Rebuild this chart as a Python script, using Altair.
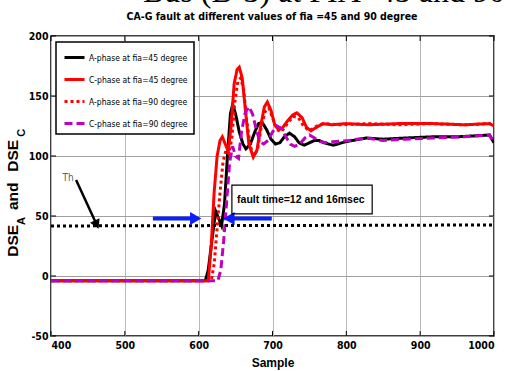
import altair as alt
import pandas as pd

# ---------------- data ----------------
SERIES = ["A-phase at  fia=45 degree", "C-phase at fia=45 degree",
          "A-phase at fia=90 degree", "C-phase at fia=90 degree"]
COLORS = ["#000000", "#ff0000", "#ff0000", "#c000c0"]
DASHES = [[1, 0], [1, 0], [3, 3], [8, 4]]

a45_x = [400, 609, 613, 618, 623, 627, 631, 635, 639, 643, 646, 650, 655, 660, 664, 670, 676,
         681, 686, 692, 698, 704, 710, 716, 723, 730, 736, 743, 750, 757, 763, 770, 782, 800,
         827, 850, 880, 917, 950, 980, 994, 1000]
a45_y = [-4, -4, 5, 30, 54, 48, 42, 60, 100, 135, 143, 135, 120, 110, 106, 110, 120,
         127, 128, 122, 114, 110, 111, 116, 119, 116, 111, 109, 111, 113, 113, 111, 109, 112,
         115, 114, 115, 116, 116, 117, 117.5, 111]

c45_x = [400, 613, 617, 621, 625, 629, 632, 636, 640, 644, 648, 652, 655, 659, 663, 668, 674,
         679, 684, 689, 693, 698, 703, 708, 713, 720, 727, 733, 740, 746, 752, 760, 768, 780,
         800, 830, 870, 917, 960, 994, 1000]
c45_y = [-4, -4, 25, 70, 100, 113, 116, 110, 104, 125, 160, 172, 174, 165, 140, 110, 99,
         105, 125, 141, 145, 138, 126, 122, 123, 129, 134, 136, 132, 124, 121, 124, 127, 126,
         127, 126, 127, 127, 126, 127, 125]

a90_x = [400, 617, 621, 625, 629, 633, 637, 641, 645, 649, 653, 657, 661, 665, 670, 675, 680,
         685, 690, 695, 700, 706, 712, 720, 728, 735, 742, 750, 760, 770, 790, 830, 870, 917,
         960, 994, 1000]
a90_y = [-4, -4, 10, 40, 70, 95, 105, 102, 115, 145, 162, 165, 155, 130, 108, 100, 106,
         125, 137, 140, 132, 122, 120, 127, 133, 132, 125, 121, 125, 127, 126, 127, 126, 127,
         126, 127, 125]

c90_x = [400, 626, 630, 634, 638, 642, 646, 650, 654, 658, 663, 668, 673, 678, 683, 688, 694,
         700, 706, 712, 718, 724, 730, 737, 744, 750, 757, 764, 772, 785, 804, 827, 849, 880,
         917, 960, 994, 1000]
c90_y = [-4, -4, 5, 30, 63, 95, 108, 100, 98, 120, 136, 141, 135, 122, 112, 110, 113,
         120, 125, 123, 116, 110, 108, 110, 115, 117.5, 115, 112, 111, 112, 113, 115, 113, 114,
         115, 116, 117.5, 111]

th_x = [400, 1000]
th_y = [41.7, 42.5]

X_TICKS = [400, 500, 600, 700, 800, 900, 1000]
Y_TICKS = [-50, 0, 50, 100, 150, 200]

TITLE = "CA-G fault at different values of fia =45 and 90 degree"
TOP_TEXT = "Bus (B-3) at FIA=45 and 90"
FAULT_TEXT = "fault time=12 and 16msec"

# annotation anchor points (data units)
th_label = {"x": 423, "y": 82, "t": "Th"}
th_arrow_x = [434, 461]
th_arrow_y = [80, 44]
blue_right_x = [538, 596]
blue_left_x = [699, 641]
blue_y = 48
box = {"x": 645, "x2": 835, "y": 75.8, "y2": 51.7}

NARROW = "Liberation Sans Narrow, DejaVu Sans Condensed, Liberation Sans, sans-serif"
SANS = "Liberation Sans, Arial, sans-serif"

# ---------------- build tables ----------------
rows = []
for name, xs_, ys_ in zip(SERIES, [a45_x, c45_x, a90_x, c90_x], [a45_y, c45_y, a90_y, c90_y]):
    for i, (xv, yv) in enumerate(zip(xs_, ys_)):
        rows.append({"series": name, "x": xv, "y": yv, "i": i})
df = pd.DataFrame(rows)

xs = alt.Scale(domain=[400, 1000], nice=False)
ys = alt.Scale(domain=[-50, 200], nice=False)

X = alt.X("x:Q", scale=xs, axis=alt.Axis(values=X_TICKS, title="Sample", grid=True,
                                           ticks=False, domain=False, labelPadding=4,
                                           titlePadding=7, gridColor="#b8b8b8",
                                           labelExpr="'' + datum.value"))
Y = alt.Y("y:Q", scale=ys, axis=alt.Axis(values=Y_TICKS, title=None, grid=True,
                                           ticks=False, domain=False, labelPadding=3,
                                           gridColor="#a0a0a0",
                                           labelExpr="'' + datum.value"))

leg = alt.Legend(title=None, orient="none", legendX=5, legendY=6, symbolType="stroke",
                 symbolSize=400, symbolStrokeWidth=3, strokeColor="black", fillColor="white",
                 padding=4, rowPadding=4, labelFont=NARROW, labelFontSize=8.5,
                 labelOffset=3, symbolOffset=3, cornerRadius=0, labelColor="black")

base = alt.Chart(df).mark_line(strokeWidth=3, clip=True).encode(
    x=X, y=Y,
    color=alt.Color("series:N", scale=alt.Scale(domain=SERIES, range=COLORS), legend=leg),
    strokeDash=alt.StrokeDash("series:N", scale=alt.Scale(domain=SERIES, range=DASHES), legend=leg),
    order="i:Q",
)
line_layers = [base.transform_filter(alt.datum.series == s) for s in SERIES]

th_df = pd.DataFrame({"x": th_x, "y": th_y})
thresh = alt.Chart(th_df).mark_line(color="black", strokeWidth=3, strokeDash=[3, 3]).encode(
    x=alt.X("x:Q", scale=xs), y=alt.Y("y:Q", scale=ys))

# black arrow for Th
arr_df = pd.DataFrame({"x": th_arrow_x, "y": th_arrow_y})
th_arrow = alt.Chart(arr_df).mark_line(color="black", strokeWidth=2.5).encode(
    x=alt.X("x:Q", scale=xs), y=alt.Y("y:Q", scale=ys))
th_head = alt.Chart(pd.DataFrame({"x": [th_arrow_x[1]], "y": [th_arrow_y[1]]})).mark_point(
    shape="triangle", filled=True, color="black", size=110, angle=155, opacity=1).encode(
    x=alt.X("x:Q", scale=xs), y=alt.Y("y:Q", scale=ys))
th_text = alt.Chart(pd.DataFrame({"x": [th_label["x"]], "y": [th_label["y"]], "t": [th_label["t"]]})).mark_text(
    font=NARROW, fontSize=10, color="#606060", align="center", baseline="middle").encode(
    x=alt.X("x:Q", scale=xs), y=alt.Y("y:Q", scale=ys), text="t:N")

# blue arrows
br = alt.Chart(pd.DataFrame({"x": blue_right_x, "y": [blue_y] * 2})).mark_line(
    color="#0a1eff", strokeWidth=4).encode(x=alt.X("x:Q", scale=xs), y=alt.Y("y:Q", scale=ys))
bl = alt.Chart(pd.DataFrame({"x": blue_left_x, "y": [blue_y] * 2})).mark_line(
    color="#0a1eff", strokeWidth=4).encode(x=alt.X("x:Q", scale=xs), y=alt.Y("y:Q", scale=ys))
br_head = alt.Chart(pd.DataFrame({"x": [blue_right_x[1]], "y": [blue_y]})).mark_point(
    shape="triangle-right", filled=True, color="#0a1eff", size=170, opacity=1).encode(
    x=alt.X("x:Q", scale=xs), y=alt.Y("y:Q", scale=ys))
bl_head = alt.Chart(pd.DataFrame({"x": [blue_left_x[1]], "y": [blue_y]})).mark_point(
    shape="triangle-left", filled=True, color="#0a1eff", size=170, opacity=1).encode(
    x=alt.X("x:Q", scale=xs), y=alt.Y("y:Q", scale=ys))

# fault time box
box_df = pd.DataFrame([box])
fbox = alt.Chart(box_df).mark_rect(filled=False, stroke="black", strokeWidth=1.2).encode(
    x=alt.X("x:Q", scale=xs), x2="x2:Q", y=alt.Y("y:Q", scale=ys), y2="y2:Q")
ftext = alt.Chart(pd.DataFrame({"x": [652], "y": [63.5], "t": [FAULT_TEXT]})).mark_text(
    font=SANS, fontSize=10.5, fontWeight="bold", align="left", baseline="middle", color="black").encode(
    x=alt.X("x:Q", scale=xs), y=alt.Y("y:Q", scale=ys), text="t:N")

# inward ticks on all four sides
xt = pd.DataFrame({"x": X_TICKS})
yt = pd.DataFrame({"y": Y_TICKS})
tick_b = alt.Chart(xt).mark_rule(color="black", strokeWidth=1).encode(
    x=alt.X("x:Q", scale=xs), y=alt.value(300), y2=alt.value(295))
tick_t = alt.Chart(xt).mark_rule(color="black", strokeWidth=1).encode(
    x=alt.X("x:Q", scale=xs), y=alt.value(0), y2=alt.value(5))
tick_l = alt.Chart(yt).mark_rule(color="black", strokeWidth=1).encode(
    y=alt.Y("y:Q", scale=ys), x=alt.value(0), x2=alt.value(5))
tick_r = alt.Chart(yt).mark_rule(color="black", strokeWidth=1).encode(
    y=alt.Y("y:Q", scale=ys), x=alt.value(443), x2=alt.value(438))

# titles
def ptext(t, x, y, **kw):
    return alt.Chart(pd.DataFrame({"t": [t]})).mark_text(**kw).encode(
        x=alt.value(x), y=alt.value(y), text="t:N")

top_text = ptext(TOP_TEXT, 92, -34, font="Liberation Serif, Times New Roman, serif",
                 fontSize=32, align="left", baseline="alphabetic", color="black")
title = ptext(TITLE, 221, -19, font=NARROW, fontSize=10.5, fontWeight="bold",
              align="center", baseline="middle", color="black")

ylab_main = dict(font=SANS, fontSize=15.5, fontWeight="bold", angle=270, align="left",
                 baseline="middle", color="black")
ylab_sub = dict(font=SANS, fontSize=11, fontWeight="bold", angle=270, align="left",
                baseline="middle", color="black")
ylab = [
    ptext("DSE", -38, 220.7, **ylab_main),
    ptext("A", -29, 189, **ylab_sub),
    ptext("and", -38, 174, **ylab_main),
    ptext("DSE", -38, 135.7, **ylab_main),
    ptext("C", -29, 100.7, **ylab_sub),
]

chart = alt.layer(
    top_text, *line_layers, thresh, th_arrow, th_head, th_text, br, bl, br_head, bl_head,
    fbox, ftext, tick_b, tick_t, tick_l, tick_r, title, *ylab
).properties(
    width=443, height=300,
    autosize=alt.AutoSizeParams(type="none"),
    padding={"left": 51, "top": 36, "right": 11, "bottom": 35},
    background="white",
).configure_view(
    stroke="black", strokeWidth=1.5
).configure_axis(
    labelFont=NARROW, labelFontSize=10.5, labelFontWeight="bold", labelColor="black",
    titleFont=SANS, titleFontSize=12, titleFontWeight="bold", titleColor="black",
    gridWidth=1
).configure_legend(
    strokeWidth=1.5
)

chart.save("out.html", embed_options={"renderer": "svg", "actions": False})
